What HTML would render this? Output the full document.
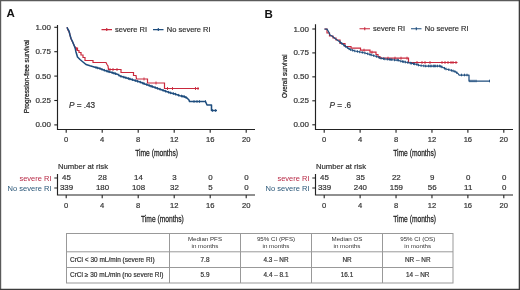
<!DOCTYPE html>
<html><head><meta charset="utf-8"><style>
html,body{margin:0;padding:0;background:#fff;}
#f{position:relative;width:520px;height:290px;overflow:hidden;background:#fff;}
svg{position:absolute;left:0;top:0;will-change:transform;}
text{font-family:"Liberation Sans", sans-serif;}
.t{stroke:#333;stroke-width:0.2px;}
.t2{stroke:#222;stroke-width:0.25px;}
</style></head><body><div id="f">
<svg width="520" height="290" viewBox="0 0 520 290">
<rect x="0" y="0" width="520" height="290" fill="#fff"/>
<path d="M0,0.6H520M0.6,0V290" stroke="#5a5a5a" stroke-width="1.2"/>
<path d="M519.35,0V290M0,289.35H520" stroke="#3c3c3c" stroke-width="1.3"/>
<text x="6.5" y="16.8" font-size="11.5" font-weight="bold" fill="#111">A</text>
<text transform="translate(29.1,76.6) rotate(-90) scale(0.82,1)" text-anchor="middle" font-size="8.1" fill="#222" class="t2">Progression-free survival</text>
<path d="M57.5,25V129.5H255" stroke="#222" stroke-width="1.15" fill="none"/>
<path d="M54.3,27.3H57.5" stroke="#222" stroke-width="1.1"/>
<text x="51" y="29.8" text-anchor="end" font-size="8" fill="#333" class="t">1.00</text>
<path d="M54.3,51.7H57.5" stroke="#222" stroke-width="1.1"/>
<text x="51" y="54.2" text-anchor="end" font-size="8" fill="#333" class="t">0.75</text>
<path d="M54.3,76.1H57.5" stroke="#222" stroke-width="1.1"/>
<text x="51" y="78.6" text-anchor="end" font-size="8" fill="#333" class="t">0.50</text>
<path d="M54.3,100.5H57.5" stroke="#222" stroke-width="1.1"/>
<text x="51" y="103.0" text-anchor="end" font-size="8" fill="#333" class="t">0.25</text>
<path d="M54.3,124.9H57.5" stroke="#222" stroke-width="1.1"/>
<text x="51" y="127.4" text-anchor="end" font-size="8" fill="#333" class="t">0.00</text>
<path d="M66.2,129.5V132.8" stroke="#222" stroke-width="1.1"/>
<text x="66.2" y="142.4" text-anchor="middle" font-size="7.6" fill="#333" class="t">0</text>
<path d="M102.2,129.5V132.8" stroke="#222" stroke-width="1.1"/>
<text x="102.2" y="142.4" text-anchor="middle" font-size="7.6" fill="#333" class="t">4</text>
<path d="M138.2,129.5V132.8" stroke="#222" stroke-width="1.1"/>
<text x="138.2" y="142.4" text-anchor="middle" font-size="7.6" fill="#333" class="t">8</text>
<path d="M174.2,129.5V132.8" stroke="#222" stroke-width="1.1"/>
<text x="174.2" y="142.4" text-anchor="middle" font-size="7.6" fill="#333" class="t">12</text>
<path d="M210.2,129.5V132.8" stroke="#222" stroke-width="1.1"/>
<text x="210.2" y="142.4" text-anchor="middle" font-size="7.6" fill="#333" class="t">16</text>
<path d="M246.2,129.5V132.8" stroke="#222" stroke-width="1.1"/>
<text x="246.2" y="142.4" text-anchor="middle" font-size="7.6" fill="#333" class="t">20</text>
<text transform="translate(156.6,156.3) scale(0.735,1)" text-anchor="middle" font-size="9.1" fill="#222" class="t2">Time (months)</text>
<text x="68.9" y="108.2" font-size="8.2" fill="#333" class="t"><tspan font-style="italic">P</tspan> = .43</text>
<path d="M101.5,29.6H112M106.75,28.1V31.1" stroke="#c9283c" stroke-width="1.1" fill="none"/>
<text x="115" y="32.1" font-size="7.5" fill="#333" class="t">severe RI</text>
<path d="M153,29.6H163.5M158.3,28.1V31.1" stroke="#1e4d7e" stroke-width="1.1" fill="none"/>
<text x="166.8" y="32.1" font-size="7.5" fill="#333" class="t">No severe RI</text>
<text x="58" y="168.5" font-size="7.7" fill="#333" class="t">Number at risk</text>
<path d="M57.5,174V195H255" stroke="#222" stroke-width="1.15" fill="none"/>
<path d="M54.3,178H57.5M54.3,188H57.5" stroke="#222" stroke-width="1.2"/>
<text x="51.5" y="180.6" text-anchor="end" font-size="7.5" fill="#b82a46">severe RI</text>
<text x="51.5" y="190.6" text-anchor="end" font-size="7.55" fill="#2a5778">No severe RI</text>
<text x="66.5" y="180.3" text-anchor="middle" font-size="7.9" fill="#333" class="t">45</text>
<text x="66.5" y="190.3" text-anchor="middle" font-size="7.9" fill="#333" class="t">339</text>
<path d="M66.2,195V198.2" stroke="#222" stroke-width="1.1"/>
<text x="66.2" y="207.9" text-anchor="middle" font-size="7.6" fill="#333" class="t">0</text>
<text x="102.5" y="180.3" text-anchor="middle" font-size="7.9" fill="#333" class="t">28</text>
<text x="102.5" y="190.3" text-anchor="middle" font-size="7.9" fill="#333" class="t">180</text>
<path d="M102.2,195V198.2" stroke="#222" stroke-width="1.1"/>
<text x="102.2" y="207.9" text-anchor="middle" font-size="7.6" fill="#333" class="t">4</text>
<text x="138.5" y="180.3" text-anchor="middle" font-size="7.9" fill="#333" class="t">14</text>
<text x="138.5" y="190.3" text-anchor="middle" font-size="7.9" fill="#333" class="t">108</text>
<path d="M138.2,195V198.2" stroke="#222" stroke-width="1.1"/>
<text x="138.2" y="207.9" text-anchor="middle" font-size="7.6" fill="#333" class="t">8</text>
<text x="174.5" y="180.3" text-anchor="middle" font-size="7.9" fill="#333" class="t">3</text>
<text x="174.5" y="190.3" text-anchor="middle" font-size="7.9" fill="#333" class="t">32</text>
<path d="M174.2,195V198.2" stroke="#222" stroke-width="1.1"/>
<text x="174.2" y="207.9" text-anchor="middle" font-size="7.6" fill="#333" class="t">12</text>
<text x="210.5" y="180.3" text-anchor="middle" font-size="7.9" fill="#333" class="t">0</text>
<text x="210.5" y="190.3" text-anchor="middle" font-size="7.9" fill="#333" class="t">5</text>
<path d="M210.2,195V198.2" stroke="#222" stroke-width="1.1"/>
<text x="210.2" y="207.9" text-anchor="middle" font-size="7.6" fill="#333" class="t">16</text>
<text x="246.5" y="180.3" text-anchor="middle" font-size="7.9" fill="#333" class="t">0</text>
<text x="246.5" y="190.3" text-anchor="middle" font-size="7.9" fill="#333" class="t">0</text>
<path d="M246.2,195V198.2" stroke="#222" stroke-width="1.1"/>
<text x="246.2" y="207.9" text-anchor="middle" font-size="7.6" fill="#333" class="t">20</text>
<text transform="translate(162.4,221.8) scale(0.735,1)" text-anchor="middle" font-size="9.1" fill="#222" class="t2">Time (months)</text>
<text x="264.5" y="18" font-size="11.5" font-weight="bold" fill="#111">B</text>
<text transform="translate(287.4,76.15) rotate(-90) scale(0.79,1)" text-anchor="middle" font-size="8.1" fill="#222" class="t2">Overall survival</text>
<path d="M315.5,24.2V129.5H513" stroke="#222" stroke-width="1.15" fill="none"/>
<path d="M312.3,29H315.5" stroke="#222" stroke-width="1.1"/>
<text x="309" y="31.5" text-anchor="end" font-size="8" fill="#333" class="t">1.00</text>
<path d="M312.3,52.9H315.5" stroke="#222" stroke-width="1.1"/>
<text x="309" y="55.4" text-anchor="end" font-size="8" fill="#333" class="t">0.75</text>
<path d="M312.3,76.85H315.5" stroke="#222" stroke-width="1.1"/>
<text x="309" y="79.35" text-anchor="end" font-size="8" fill="#333" class="t">0.50</text>
<path d="M312.3,100.8H315.5" stroke="#222" stroke-width="1.1"/>
<text x="309" y="103.3" text-anchor="end" font-size="8" fill="#333" class="t">0.25</text>
<path d="M312.3,124.8H315.5" stroke="#222" stroke-width="1.1"/>
<text x="309" y="127.3" text-anchor="end" font-size="8" fill="#333" class="t">0.00</text>
<path d="M324.2,129.5V132.8" stroke="#222" stroke-width="1.1"/>
<text x="324.2" y="142.4" text-anchor="middle" font-size="7.6" fill="#333" class="t">0</text>
<path d="M360.12,129.5V132.8" stroke="#222" stroke-width="1.1"/>
<text x="360.12" y="142.4" text-anchor="middle" font-size="7.6" fill="#333" class="t">4</text>
<path d="M396.03999999999996,129.5V132.8" stroke="#222" stroke-width="1.1"/>
<text x="396.03999999999996" y="142.4" text-anchor="middle" font-size="7.6" fill="#333" class="t">8</text>
<path d="M431.96,129.5V132.8" stroke="#222" stroke-width="1.1"/>
<text x="431.96" y="142.4" text-anchor="middle" font-size="7.6" fill="#333" class="t">12</text>
<path d="M467.88,129.5V132.8" stroke="#222" stroke-width="1.1"/>
<text x="467.88" y="142.4" text-anchor="middle" font-size="7.6" fill="#333" class="t">16</text>
<path d="M503.8,129.5V132.8" stroke="#222" stroke-width="1.1"/>
<text x="503.8" y="142.4" text-anchor="middle" font-size="7.6" fill="#333" class="t">20</text>
<text transform="translate(414.6,156.3) scale(0.735,1)" text-anchor="middle" font-size="9.1" fill="#222" class="t2">Time (months)</text>
<text x="329.4" y="108.2" font-size="8.2" fill="#333" class="t"><tspan font-style="italic">P</tspan> = .6</text>
<path d="M359.5,28.7H370M364.75,27.2V30.2" stroke="#c9283c" stroke-width="1.1" fill="none"/>
<text x="373" y="31.2" font-size="7.5" fill="#333" class="t">severe RI</text>
<path d="M411,28.7H421.5M416.3,27.2V30.2" stroke="#1e4d7e" stroke-width="1.1" fill="none"/>
<text x="424.8" y="31.2" font-size="7.5" fill="#333" class="t">No severe RI</text>
<text x="316" y="168.5" font-size="7.7" fill="#333" class="t">Number at risk</text>
<path d="M315.5,174V195H513" stroke="#222" stroke-width="1.15" fill="none"/>
<path d="M312.3,178H315.5M312.3,188H315.5" stroke="#222" stroke-width="1.2"/>
<text x="309.5" y="180.6" text-anchor="end" font-size="7.5" fill="#b82a46">severe RI</text>
<text x="309.5" y="190.6" text-anchor="end" font-size="7.55" fill="#2a5778">No severe RI</text>
<text x="324.5" y="180.3" text-anchor="middle" font-size="7.9" fill="#333" class="t">45</text>
<text x="324.5" y="190.3" text-anchor="middle" font-size="7.9" fill="#333" class="t">339</text>
<path d="M324.2,195V198.2" stroke="#222" stroke-width="1.1"/>
<text x="324.2" y="207.9" text-anchor="middle" font-size="7.6" fill="#333" class="t">0</text>
<text x="360.42" y="180.3" text-anchor="middle" font-size="7.9" fill="#333" class="t">35</text>
<text x="360.42" y="190.3" text-anchor="middle" font-size="7.9" fill="#333" class="t">240</text>
<path d="M360.12,195V198.2" stroke="#222" stroke-width="1.1"/>
<text x="360.12" y="207.9" text-anchor="middle" font-size="7.6" fill="#333" class="t">4</text>
<text x="396.34" y="180.3" text-anchor="middle" font-size="7.9" fill="#333" class="t">22</text>
<text x="396.34" y="190.3" text-anchor="middle" font-size="7.9" fill="#333" class="t">159</text>
<path d="M396.03999999999996,195V198.2" stroke="#222" stroke-width="1.1"/>
<text x="396.03999999999996" y="207.9" text-anchor="middle" font-size="7.6" fill="#333" class="t">8</text>
<text x="432.26" y="180.3" text-anchor="middle" font-size="7.9" fill="#333" class="t">9</text>
<text x="432.26" y="190.3" text-anchor="middle" font-size="7.9" fill="#333" class="t">56</text>
<path d="M431.96,195V198.2" stroke="#222" stroke-width="1.1"/>
<text x="431.96" y="207.9" text-anchor="middle" font-size="7.6" fill="#333" class="t">12</text>
<text x="468.18" y="180.3" text-anchor="middle" font-size="7.9" fill="#333" class="t">0</text>
<text x="468.18" y="190.3" text-anchor="middle" font-size="7.9" fill="#333" class="t">11</text>
<path d="M467.88,195V198.2" stroke="#222" stroke-width="1.1"/>
<text x="467.88" y="207.9" text-anchor="middle" font-size="7.6" fill="#333" class="t">16</text>
<text x="504.1" y="180.3" text-anchor="middle" font-size="7.9" fill="#333" class="t">0</text>
<text x="504.1" y="190.3" text-anchor="middle" font-size="7.9" fill="#333" class="t">0</text>
<path d="M503.8,195V198.2" stroke="#222" stroke-width="1.1"/>
<text x="503.8" y="207.9" text-anchor="middle" font-size="7.6" fill="#333" class="t">20</text>
<text transform="translate(414.6,221.8) scale(0.735,1)" text-anchor="middle" font-size="9.1" fill="#222" class="t2">Time (months)</text>
<polyline points="67,27.2 68,30 69.5,33 70.5,37 71.5,40 73,43 74.5,46 76,48 77.5,48 77.5,50.5 79,50.5 79,52.5 81,52.5 81,55 83,55 83,57.5 85,57.5 85,60.5 93,60.5 93,62.5 106,62.5 107,64.5 108,66 108.5,69.5 121,69.5 121,72.5 133.5,72.5 133.5,75.5 136,75.5 136.5,79 147.5,79 147.5,83 164.5,83 164.5,88.5 199,88.5" fill="none" stroke="#c9283c" stroke-width="1.2"/>
<polyline points="67,27.2 68,29.5 69,31 70,35 71,38.5 72.5,41.5 74.5,46.5 75.3,48.6 76,52 77.5,57 80,59.5 83,62 86,64.5 90,65.8 95,67.2 100,68.6 105,70.5 110,72 115,73.5 118,74.5 120,76 125,77.5 130,79 135,80.5 140,82 145,84 150,85.8 155,87.5 160,89.2 165,91 170,92.7 175,94 180,95.7 185,96.8 187,98 189,100 189.5,101.5 205.5,101.5 207,105 211.5,105 211.5,110.5 217,110.5" fill="none" stroke="#1e4d7e" stroke-width="1.55" stroke-linejoin="round"/>
<path d="M76.5,47.5V50.5M110,68.0V71.0M113,68.0V71.0M117,68.0V71.0M144,77.5V80.5M156,81.5V84.5M167.5,87.0V90.0M172.5,87.0V90.0M195.5,87.0V90.0M198,87.0V90.0" stroke="#c9283c" stroke-width="0.9" fill="none"/>
<path d="M96,66.18V68.78M97.7,66.66V69.25999999999999M100.0,67.3V69.89999999999999M101.9,68.02V70.61999999999999M104.3,68.93V71.53M106.8,69.74000000000001V72.34M108.1,70.13000000000001V72.73M109.3,70.49000000000001V73.09M112.2,71.36V73.96M113.9,71.87V74.47M115.6,72.4V75.0M118.8,73.8V76.39999999999999M120.9,74.97V77.57M123.8,75.84V78.44M125.9,76.47V79.07M128.4,77.22V79.82M129.9,77.67V80.27M132.4,78.42V81.02M135.3,79.29V81.89M137.6,79.98V82.58M140.3,80.82000000000001V83.42M142.8,81.82000000000001V84.42M144.1,82.34V84.94M146.8,83.35000000000001V85.95M149.2,84.21000000000001V86.81M151.0,84.84V87.44M152.3,85.28V87.88M155.2,86.27V88.86999999999999M157.4,87.02V89.61999999999999M160.0,87.9V90.5M163.0,88.98V91.58M165.6,89.9V92.5M168.6,90.92V93.52M170.6,91.56V94.16M173.4,92.28V94.88M175.5,92.87V95.47M178.6,93.92V96.52M181.5,94.73V97.33M182.9,95.04V97.64M184.4,95.37V97.97M186.0,96.10000000000001V98.7M194,100.2V102.8M197,100.2V102.8M199.5,100.2V102.8M205.5,100.2V102.8M212.5,109.2V111.8M215.5,109.2V111.8" stroke="#1e4d7e" stroke-width="0.9" fill="none"/>
<polyline points="324.5,29 327,29 327,33 329.5,33 329.5,36 333,36 333,38 336,38 336,40 340,40 340,43.5 345,43.5 345,46.5 351,46.5 351,48.2 360.5,48.2 360.5,50.2 370,50.2 370,52.2 376,52.2 376,54.5 378,54.5 378,56.5 380,56.5 380,58.2 408.5,58.2 408.5,62.5 457.5,62.5" fill="none" stroke="#c9283c" stroke-width="1.2"/>
<polyline points="324.5,29 327,29 329,32.5 330,35 332,36 335,38.5 340,42 345,46 348,48 350,49.5 355,51 360,52 365,53 370,54.5 375,56 378,57 380,58 385,59 390,59.5 395,60 398,60 400,61 405,62 410,63 415,64 420,65.5 425,66 440,66 443,67.5 446,69 450,70 455,71.5 458,73.5 459,75 469,75 469,81 490,81" fill="none" stroke="#1e4d7e" stroke-width="1.25" stroke-linejoin="round"/>
<path d="M364,48.7V51.7M372,50.7V53.7M388,56.7V59.7M395,56.7V59.7M401,56.7V59.7M407,56.7V59.7M417,61.0V64.0M422,61.0V64.0M425,61.0V64.0M430,61.0V64.0M442,61.0V64.0M445,61.0V64.0M448,61.0V64.0M451,61.0V64.0M453,61.0V64.0M456,61.0V64.0" stroke="#c9283c" stroke-width="0.9" fill="none"/>
<path d="M340,40.7V43.3M341.8,42.14V44.739999999999995M343.9,43.82V46.419999999999995M345.5,45.03V47.629999999999995M347.4,46.300000000000004V48.9M349.1,47.53V50.129999999999995M350.7,48.410000000000004V51.01M352.7,49.010000000000005V51.61M354.8,49.64V52.239999999999995M357.4,50.18V52.779999999999994M359.7,50.64V53.239999999999995M362.3,51.160000000000004V53.76M364.9,51.68V54.279999999999994M367.7,52.510000000000005V55.11M369.9,53.17V55.769999999999996M371.2,53.56V56.16M373.7,54.31V56.91M376.4,55.17V57.769999999999996M379.1,56.25V58.849999999999994M381.1,56.92V59.519999999999996M383.4,57.38V59.98M384.8,57.660000000000004V60.26M387.3,57.93V60.529999999999994M389.3,58.13V60.73M390.8,58.28V60.879999999999995M391.9,58.39V60.989999999999995M394.5,58.650000000000006V61.25M397.2,58.7V61.3M398.4,58.900000000000006V61.5M400.8,59.86V62.459999999999994M402.6,60.220000000000006V62.82M403.8,60.46V63.059999999999995M405.4,60.78V63.379999999999995M407.8,61.260000000000005V63.86M410.3,61.760000000000005V64.36M411.4,61.980000000000004V64.58M413.5,62.400000000000006V65.0M414.6,62.620000000000005V65.22M416.9,63.269999999999996V65.86999999999999M418.5,63.75V66.35M421.1,64.31V66.91M423.8,64.58V67.17999999999999M425.7,64.7V67.3M428.5,64.7V67.3M430.1,64.7V67.3M431.2,64.7V67.3M433.3,64.7V67.3M434.4,64.7V67.3M435.7,64.7V67.3M437.5,64.7V67.3M439.6,64.7V67.3M440.8,65.10000000000001V67.7M441.9,65.65V68.25M444.5,66.95V69.55M446.0,67.7V70.3M448.8,68.4V71.0M451.4,69.12V71.72M453.1,69.63000000000001V72.23M454.9,70.17V72.77M456.8,71.4V74.0M461.5,73.7V76.3M464.5,73.7V76.3M467,73.7V76.3M470,79.7V82.3M472,79.7V82.3M474,79.7V82.3M476,79.7V82.3M489.5,79.7V82.3" stroke="#1e4d7e" stroke-width="0.9" fill="none"/>
<rect x="66.5" y="233.5" width="386.5" height="49.5" fill="none" stroke="#999" stroke-width="1"/>
<path d="M169.5,233.5V283" stroke="#999" stroke-width="1"/>
<path d="M240.5,233.5V283" stroke="#999" stroke-width="1"/>
<path d="M311.5,233.5V283" stroke="#999" stroke-width="1"/>
<path d="M382.5,233.5V283" stroke="#999" stroke-width="1"/>
<path d="M66.5,251.8H453" stroke="#999" stroke-width="1"/>
<path d="M66.5,267.5H453" stroke="#999" stroke-width="1"/>
<text x="205.0" y="240.8" text-anchor="middle" font-size="6.2" fill="#333">Median PFS</text>
<text x="205.0" y="248.3" text-anchor="middle" font-size="6.2" fill="#333">in months</text>
<text x="276.0" y="240.8" text-anchor="middle" font-size="6.2" fill="#333">95% CI (PFS)</text>
<text x="276.0" y="248.3" text-anchor="middle" font-size="6.2" fill="#333">in months</text>
<text x="347.0" y="240.8" text-anchor="middle" font-size="6.2" fill="#333">Median OS</text>
<text x="347.0" y="248.3" text-anchor="middle" font-size="6.2" fill="#333">in months</text>
<text x="417.75" y="240.8" text-anchor="middle" font-size="6.2" fill="#333">95% CI (OS)</text>
<text x="417.75" y="248.3" text-anchor="middle" font-size="6.2" fill="#333">in months</text>
<text x="205.0" y="262" text-anchor="middle" font-size="6.4" fill="#333" class="t">7.8</text>
<text x="205.0" y="277.4" text-anchor="middle" font-size="6.4" fill="#333" class="t">5.9</text>
<text x="276.0" y="262" text-anchor="middle" font-size="6.4" fill="#333" class="t">4.3 – NR</text>
<text x="276.0" y="277.4" text-anchor="middle" font-size="6.4" fill="#333" class="t">4.4 – 8.1</text>
<text x="347.0" y="262" text-anchor="middle" font-size="6.4" fill="#333" class="t">NR</text>
<text x="347.0" y="277.4" text-anchor="middle" font-size="6.4" fill="#333" class="t">16.1</text>
<text x="417.75" y="262" text-anchor="middle" font-size="6.4" fill="#333" class="t">NR – NR</text>
<text x="417.75" y="277.4" text-anchor="middle" font-size="6.4" fill="#333" class="t">14 – NR</text>
<text x="70" y="262" font-size="6.5" fill="#333" class="t">CrCl &lt; 30 mL/min (severe RI)</text>
<text x="70" y="277.4" font-size="6.5" fill="#333" class="t">CrCl ≥ 30 mL/min (no severe RI)</text>
</svg></div></body></html>
